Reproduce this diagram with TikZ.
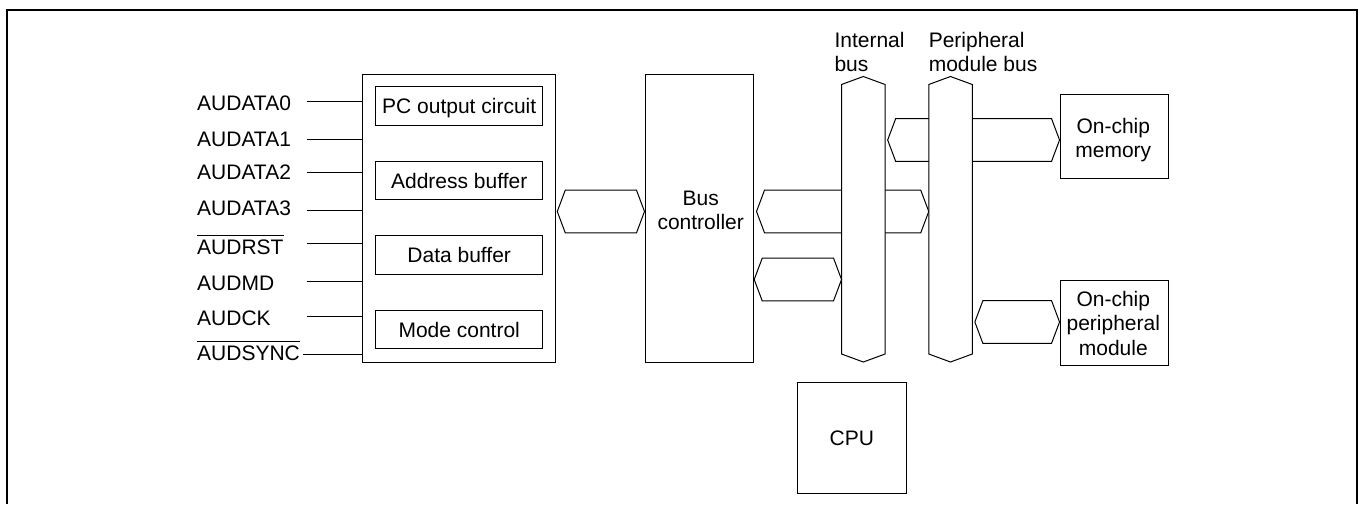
\documentclass[tikz,border=0pt]{standalone}
\usepackage{fontspec}
\setmainfont{Liberation Sans}
\usetikzlibrary{calc}
\newcommand\myovl[1]{\vbox{\hrule height 0.9pt\kern3.6pt\hbox{#1}}}
\newcommand\vbusshape[1]{\path[busline] (#1.north west) -- ($(#1.north)+(0,-8)$) -- (#1.north east) -- (#1.south east) -- ($(#1.south)+(0,8)$) -- (#1.south west) -- cycle;}
\newcommand\hbusshape[2]{\path[busline] (#1) -- ($(#1)+(8,-21.3)$) -- ($(#2)+(-8,-21.3)$) -- (#2) -- ($(#2)+(-8,21.3)$) -- ($(#1)+(8,21.3)$) -- cycle;}
\begin{document}
\begin{tikzpicture}[x=1pt,y=-1pt,
  font=\fontsize{21}{24.5}\selectfont,
  line width=1pt,
  box/.style={draw,inner sep=0pt},
  inbox/.style={draw,inner sep=0pt,minimum width=167pt,minimum height=38.3pt,text height=15pt,text depth=0pt},
  lbl/.style={inner sep=0pt,anchor=base west},
  txt/.style={inner sep=0pt,align=center},
  busbody/.style={inner sep=0pt,minimum width=42.5pt,minimum height=268.5pt},
  busline/.style={draw,fill=white,line join=miter}]

\useasboundingbox (0,0) rectangle (1362,504);
\draw[line width=2pt] (7,504) -- (7,10) -- (1357,10) -- (1357,504);

% AUD block
\node[box,minimum width=192.3pt,minimum height=288pt] (aud) at (458.9,218) {};
\node[inbox] (pc) at (459.2,105.85) {PC output circuit};
\node[inbox] (addr) at (459.2,180.5) {Address buffer};
\node[inbox] (data) at (459.2,255) {Data buffer};
\node[inbox] (mode) at (459.2,329.5) {Mode control};

% signal labels
\node[lbl] (l0) at (196.7,110) {AUDATA0};
\node[lbl] (l1) at (196.7,146) {AUDATA1};
\node[lbl] (l2) at (196.7,179.5) {AUDATA2};
\node[lbl] (l3) at (196.7,215) {AUDATA3};
\node[lbl] (l4) at (196.7,254) {\myovl{AUDRST}};
\node[lbl] (l5) at (196.7,290.5) {AUDMD};
\node[lbl] (l6) at (196.7,325) {AUDCK};
\node[lbl] (l7) at (196.7,360) {\myovl{AUDSYNC}};

\coordinate (s0) at (306.7,101.7);
\coordinate (s1) at (306.7,139);
\coordinate (s2) at (306.7,172.7);
\coordinate (s3) at (306.7,210);
\coordinate (s4) at (306.7,243.3);
\coordinate (s5) at (306.7,281.7);
\coordinate (s6) at (306.7,316.7);
\coordinate (s7) at (302.7,354);
\foreach \s in {s0,s1,s2,s3,s4,s5,s6,s7} \draw (\s) -- (\s -| aud.west);

% bus controller
\node[box,minimum width=108.7pt,minimum height=288pt] (bc) at (699.35,218.3) {};
\node[txt] (bct) at (700.7,210.3) {Bus\\controller};

% right side boxes
\node[box,minimum width=108.3pt,minimum height=84.7pt] (mem) at (1114.2,136.35) {};
\node[txt,anchor=north] (memt) at (1113.3,117.3) {On-chip\\memory};
\node[box,minimum width=108.3pt,minimum height=85pt] (per) at (1114.2,322.5) {};
\node[txt,anchor=north] (pert) at (1113.3,290.7) {On-chip\\peripheral\\module};
\node[box,minimum width=108.3pt,minimum height=111.7pt,text height=15pt,text depth=0pt] (cpu) at (851.85,437.85) {CPU};

% bus labels
\node[txt,align=left,anchor=north west] (ibl) at (834,31.7) {Internal\\bus};
\node[txt,align=left,anchor=north west] (pbl) at (928.3,31.7) {Peripheral\\module bus};

% bus bodies
\node[busbody] (ibus) at (863.3,219.25) {};
\node[busbody] (pbus) at (950.5,219.25) {};

% hexagon connectors
\path (aud.east |- 0,211.5) ++(1.7,0) coordinate (h1a);
\coordinate (h1b) at (bc.west |- 0,211.5);
\path (bc.east |- 0,211.5) ++(2.3,0) coordinate (h2a);
\coordinate (h2b) at (pbus.west |- 0,211.5);
\coordinate (h3a) at (bc.east |- 0,279.5);
\coordinate (h3b) at (ibus.west |- 0,279.5);
\path (ibus.east |- 0,140) ++(2.6,0) coordinate (h4a);
\coordinate (h4b) at (mem.west |- 0,140);
\path (pbus.east |- 0,322) ++(2.6,0) coordinate (h5a);
\coordinate (h5b) at (per.west |- 0,322);

\hbusshape{h2a}{h2b}
\hbusshape{h4a}{h4b}
\vbusshape{ibus}
\vbusshape{pbus}
\hbusshape{h1a}{h1b}
\hbusshape{h3a}{h3b}
\hbusshape{h5a}{h5b}
\end{tikzpicture}
\end{document}
